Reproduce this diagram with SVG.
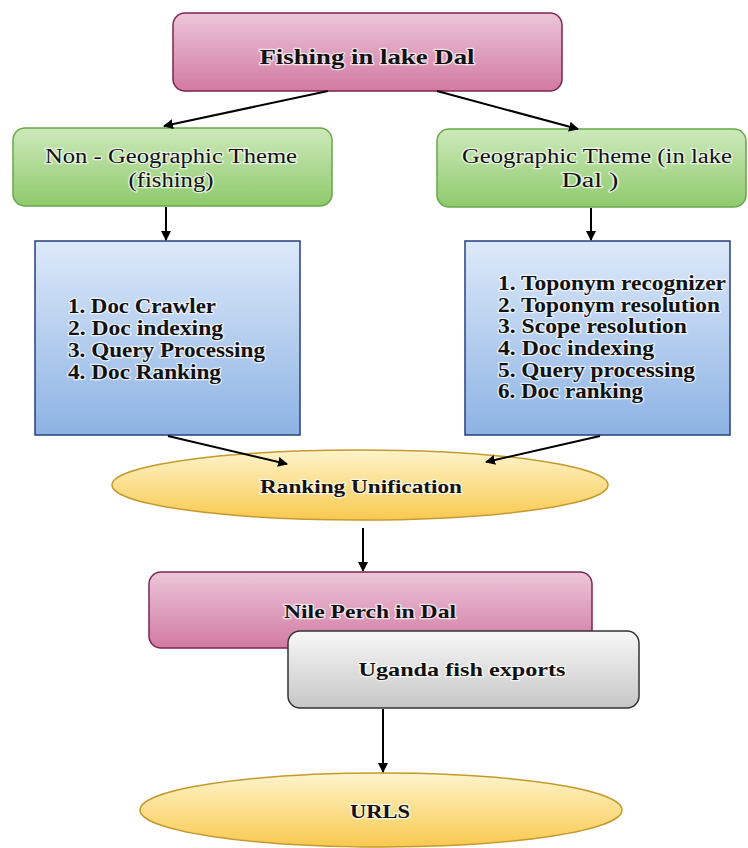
<svg xmlns="http://www.w3.org/2000/svg" width="748" height="848" viewBox="0 0 748 848">
<defs>
<linearGradient id="gPink" x1="0" y1="0" x2="0" y2="1"><stop offset="0" stop-color="#ecc6d9"/><stop offset="1" stop-color="#d27aa2"/></linearGradient>
<linearGradient id="gGreen" x1="0" y1="0" x2="0" y2="1"><stop offset="0" stop-color="#cde9bb"/><stop offset="1" stop-color="#8fca6c"/></linearGradient>
<linearGradient id="gBlue" x1="0" y1="0" x2="0" y2="1"><stop offset="0" stop-color="#dde9f9"/><stop offset="1" stop-color="#8db3e4"/></linearGradient>
<linearGradient id="gYellow" x1="0" y1="0" x2="0" y2="1"><stop offset="0" stop-color="#fff4cc"/><stop offset="1" stop-color="#f8c94f"/></linearGradient>
<linearGradient id="gGray" x1="0" y1="0" x2="0" y2="1"><stop offset="0" stop-color="#f8f8f8"/><stop offset="1" stop-color="#c6c6c6"/></linearGradient>
<marker id="arr" viewBox="0 0 10 10" refX="9" refY="5" markerWidth="10" markerHeight="10" markerUnits="userSpaceOnUse" orient="auto"><path d="M0,0 L10,5 L0,10 z" fill="#000"/></marker>
</defs>
<style>
text{font-family:"Liberation Serif","Times New Roman",serif;fill:#111;stroke:#fff;stroke-width:2.5px;stroke-opacity:0.7;paint-order:stroke;stroke-linejoin:round}
.b{font-weight:bold}
.pink{fill:url(#gPink);stroke:#7d2550;stroke-width:1.5}
.green{fill:url(#gGreen);stroke:#66a84a;stroke-width:1.5}
.blue{fill:url(#gBlue);stroke:#263f80;stroke-width:1.5}
.yellow{fill:url(#gYellow);stroke:#c49a2e;stroke-width:1.5}
.gray{fill:url(#gGray);stroke:#333;stroke-width:1.5}
.c{stroke:#000;stroke-width:2;fill:none;marker-end:url(#arr)}
</style>
<g id="n-fishing">
<rect class="pink" x="173" y="13" width="389" height="78" rx="12"/>
<text class="b" x="367" y="64" font-size="22" text-anchor="middle" textLength="215" lengthAdjust="spacingAndGlyphs">Fishing in lake Dal</text>
</g>
<g id="n-nongeo">
<rect class="green" x="13" y="128" width="319" height="78" rx="12"/>
<text x="171" y="163" font-size="20" text-anchor="middle" textLength="252" lengthAdjust="spacingAndGlyphs">Non - Geographic Theme</text>
<text x="171" y="187" font-size="20" text-anchor="middle" textLength="85" lengthAdjust="spacingAndGlyphs">(fishing)</text>
</g>
<g id="n-geo">
<rect class="green" x="437" y="129" width="309" height="78" rx="12"/>
<text x="597" y="163" font-size="20" text-anchor="middle" textLength="270" lengthAdjust="spacingAndGlyphs">Geographic Theme (in lake</text>
<text x="590" y="187" font-size="20" text-anchor="middle" textLength="57" lengthAdjust="spacingAndGlyphs">Dal )</text>
</g>
<g id="n-list1">
<rect class="blue" x="35" y="241" width="265" height="194"/>
<text class="b" font-size="20" x="68" y="313" textLength="148" lengthAdjust="spacingAndGlyphs">1. Doc Crawler</text>
<text class="b" font-size="20" x="68" y="335" textLength="155" lengthAdjust="spacingAndGlyphs">2. Doc indexing</text>
<text class="b" font-size="20" x="68" y="357" textLength="197" lengthAdjust="spacingAndGlyphs">3. Query Processing</text>
<text class="b" font-size="20" x="68" y="379" textLength="153" lengthAdjust="spacingAndGlyphs">4. Doc Ranking</text>
</g>
<g id="n-list2">
<rect class="blue" x="465" y="241" width="265" height="194"/>
<text class="b" font-size="20" x="498" y="290" textLength="228" lengthAdjust="spacingAndGlyphs">1. Toponym recognizer</text>
<text class="b" font-size="20" x="498" y="312" textLength="222" lengthAdjust="spacingAndGlyphs">2. Toponym resolution</text>
<text class="b" font-size="20" x="498" y="333" textLength="189" lengthAdjust="spacingAndGlyphs">3. Scope resolution</text>
<text class="b" font-size="20" x="498" y="355" textLength="156" lengthAdjust="spacingAndGlyphs">4. Doc indexing</text>
<text class="b" font-size="20" x="498" y="377" textLength="197" lengthAdjust="spacingAndGlyphs">5. Query processing</text>
<text class="b" font-size="20" x="498" y="398" textLength="145" lengthAdjust="spacingAndGlyphs">6. Doc ranking</text>
</g>
<g id="n-rank">
<ellipse class="yellow" cx="360" cy="485" rx="248" ry="35"/>
<text class="b" x="361" y="493" font-size="19" text-anchor="middle" textLength="202" lengthAdjust="spacingAndGlyphs">Ranking Unification</text>
</g>
<g id="n-nile">
<rect class="pink" x="149" y="572" width="443" height="76" rx="12"/>
<text class="b" x="370" y="618" font-size="19" text-anchor="middle" textLength="172" lengthAdjust="spacingAndGlyphs">Nile Perch in Dal</text>
</g>
<g id="n-uganda">
<rect class="gray" x="288" y="631" width="351" height="77" rx="12"/>
<text class="b" x="462" y="676" font-size="19" text-anchor="middle" textLength="207" lengthAdjust="spacingAndGlyphs">Uganda fish exports</text>
</g>
<g id="n-urls">
<ellipse class="yellow" cx="381" cy="810" rx="241" ry="37"/>
<text class="b" x="380" y="818" font-size="19" text-anchor="middle" textLength="60" lengthAdjust="spacingAndGlyphs">URLS</text>
</g>
<g id="connectors">
<line class="c" x1="328" y1="91" x2="164" y2="126"/>
<line class="c" x1="437" y1="91" x2="578" y2="129"/>
<line class="c" x1="166" y1="207" x2="166" y2="240"/>
<line class="c" x1="591" y1="208" x2="591" y2="240"/>
<line class="c" x1="168" y1="436" x2="287" y2="464"/>
<line class="c" x1="600" y1="436" x2="486" y2="462"/>
<line class="c" x1="363" y1="528" x2="363" y2="571"/>
<line class="c" x1="383" y1="709" x2="383" y2="772"/>
</g>
</svg>
